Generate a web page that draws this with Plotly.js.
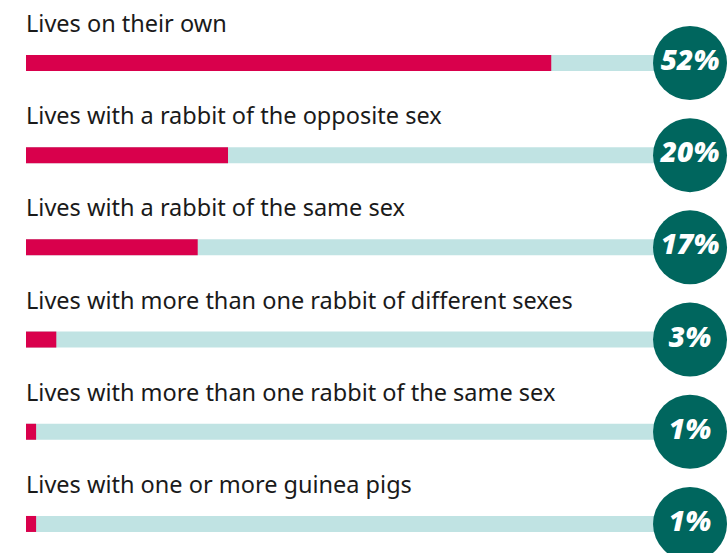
<!DOCTYPE html>
<html>
<head>
<meta charset="utf-8">
<script src="https://cdn.plot.ly/plotly-3.0.1.min.js"></script>
<style>html,body{margin:0;padding:0;background:#fff;}#chart{width:728px;height:553px;}</style>
</head>
<body>
<div id="chart"></div>
<script>
const categories = [
  "Lives on their own",
  "Lives with a rabbit of the opposite sex",
  "Lives with a rabbit of the same sex",
  "Lives with more than one rabbit of different sexes",
  "Lives with more than one rabbit of the same sex",
  "Lives with one or more guinea pigs"
];
const values = [52, 20, 17, 3, 1, 1];
const valueLabels = ["52%", "20%", "17%", "3%", "1%", "1%"];

const TRACK_END = 65.74;
const rows = categories.map((c, i) => i);

const track = {
  type: "bar", orientation: "h",
  x: rows.map(() => TRACK_END), y: rows, base: 0,
  width: 0.1735, marker: {color: "#c0e3e3"},
  hoverinfo: "skip", showlegend: false
};
const fill = {
  type: "bar", orientation: "h",
  x: values, y: rows,
  width: 0.1735, marker: {color: "#d9004c"},
  hoverinfo: "skip", showlegend: false
};
const circles = {
  type: "scatter", mode: "markers+text",
  x: rows.map(() => TRACK_END), y: rows,
  text: valueLabels, textposition: "middle center",
  marker: {size: 74, color: "#00665e", line: {width: 0}},
  textfont: {family: "Open Sans, sans-serif", size: 28, color: "#ffffff", weight: 800, style: "italic"},
  hoverinfo: "skip", showlegend: false, cliponaxis: false
};

const annotations = categories.map((c, i) => ({
  x: 0, y: i, xref: "x", yref: "y", xanchor: "left", yanchor: "middle",
  yshift: 40, xshift: -2, text: c, showarrow: false,
  font: {family: "Noto Sans, sans-serif", size: 23.5, color: "#1a1a1a"}
}));

const layout = {
  width: 728, height: 553,
  margin: {l: 0, r: 0, t: 0, b: 0},
  paper_bgcolor: "#ffffff", plot_bgcolor: "#ffffff",
  barmode: "overlay",
  xaxis: {range: [-2.574, 69.5], visible: false, fixedrange: true},
  yaxis: {range: [5.315, -0.683], visible: false, fixedrange: true},
  annotations: annotations,
  showlegend: false
};

Plotly.newPlot("chart", [track, fill, circles], layout, {displayModeBar: false, staticPlot: true});
</script>
</body>
</html>
